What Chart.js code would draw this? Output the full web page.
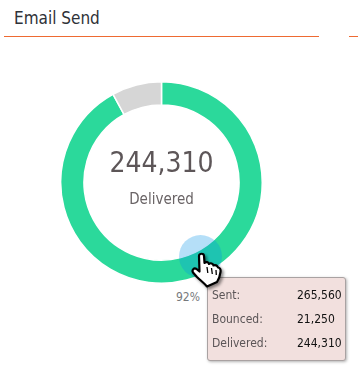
<!DOCTYPE html>
<html>
<head>
<meta charset="utf-8">
<title>Email Send</title>
<script src="https://cdn.jsdelivr.net/npm/chart.js@4/dist/chart.umd.min.js"></script>
<style>
  html, body { margin: 0; padding: 0; background: #fff; }
  body { width: 358px; height: 372px; position: relative; overflow: hidden; font-family: "DejaVu Sans Condensed", "DejaVu Sans", sans-serif; }
  .abs { position: absolute; white-space: nowrap; }
  #title { left: 14px; top: 8px; font-size: 17px; line-height: 20px; color: #2f3238; }
  .rule { position: absolute; top: 36px; height: 1px; background: #ee6a32; }
  #wrap { position: absolute; left: 60px; top: 81px; width: 203px; height: 203px; }
  #total { left: 61px; width: 201px; top: 145px; text-align: center; font-size: 28px; line-height: 36px; color: #5d5658; }
  #caption { left: 61px; width: 201px; top: 189px; text-align: center; font-size: 15px; line-height: 20px; color: #6a6466; }
  #pct { left: 176px; top: 289px; font-size: 12px; line-height: 16px; color: #77797c; }
  #hover { position: absolute; left: 179px; top: 235px; width: 43px; height: 43px; border-radius: 50%; background: rgba(0, 145, 231, 0.29); }
  #tip { position: absolute; left: 207px; top: 277px; width: 137px; height: 82px; background: #f2e0de; border: 1px solid #a9a2a2; border-radius: 3px; box-shadow: 1px 1px 3px rgba(0,0,0,.3); }
  .row { position: absolute; left: 4px; right: 5px; height: 20px; font-size: 12px; line-height: 20px; color: #5b5557; }
  .row b { position: absolute; left: 85px; font-weight: normal; color: #111; }
  #hand { position: absolute; left: 188px; top: 250px; filter: drop-shadow(2px 2px 1.500px rgba(0,0,0,.45)); }
</style>
</head>
<body>
<div id="title" class="abs"></div>
<div class="rule" style="left:4px;width:315px"></div>
<div class="rule" style="left:349px;width:9px"></div>

<div id="wrap"><canvas id="email-chart" width="203" height="203"></canvas></div>
<div id="total" class="abs"></div>
<div id="caption" class="abs"></div>
<div id="pct" class="abs"></div>
<div id="hover"></div>
<div id="tip"></div>

<svg id="hand" width="38" height="40" viewBox="0 0 38 40">
  <path d="M11 6C11 3 16 3 16 6L16.500 13C18 11.500 20.500 12 21 14C22.500 12.500 25 13.500 25.500 15.500C27 14.500 29.500 15.500 30 17.500C31.500 17.500 33 19 32.500 22C32 26 31 29 29 32L19 36.500C16 33 12 30 9 27L5 22.500C3.500 20 6 17.500 8.500 19L11.500 21.500Z" fill="#fff" stroke="#000" stroke-width="2.200" stroke-linejoin="round"/>
  <path d="M19 17l.8 6M23.500 18l.8 6M28 20l.3 5" stroke="#000" stroke-width="1.300" fill="none"/>
</svg>

<script>
const chartTitle = 'Email Send';
const categories = ['Delivered', 'Bounced'];
const seriesValues = [244310, 21250];
const sliceColors = ['#2bd99b', '#d6d6d6'];
const centerLabel = '244,310';
const percentLabel = '92%';
const tipLabels = ['Sent:', 'Bounced:', 'Delivered:'];
const tipValues = ['265,560', '21,250', '244,310'];

document.getElementById('title').textContent = chartTitle;
document.getElementById('total').textContent = centerLabel;
document.getElementById('caption').textContent = categories[0];
document.getElementById('pct').textContent = percentLabel;

const tip = document.getElementById('tip');
tipLabels.forEach(function (label, i) {
  const row = document.createElement('div');
  row.className = 'row';
  row.style.top = (7 + i * 24) + 'px';
  row.textContent = label;
  const val = document.createElement('b');
  val.textContent = tipValues[i];
  row.appendChild(val);
  tip.appendChild(row);
});

new Chart('email-chart', {
  type: 'doughnut',
  data: {
    labels: categories,
    datasets: [{
      data: seriesValues,
      backgroundColor: sliceColors,
      borderColor: '#fff',
      borderWidth: 1.5
    }]
  },
  options: {
    responsive: false,
    animation: false,
    cutout: '77%',
    layout: { padding: 0 },
    plugins: {
      legend: { display: false },
      tooltip: { enabled: false }
    }
  }
});
</script>
</body>
</html>
